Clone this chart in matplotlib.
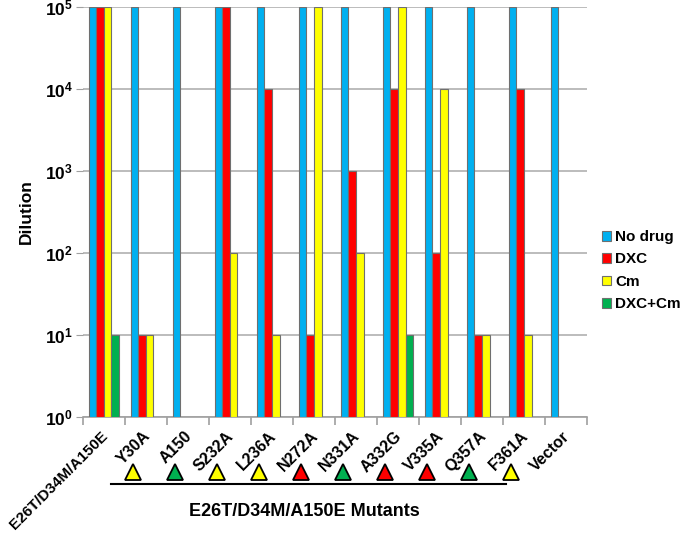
import numpy as np
import matplotlib
matplotlib.use("Agg")
import matplotlib.pyplot as plt
import matplotlib.transforms as mtransforms
from matplotlib.patches import Patch

plt.rcParams['font.family'] = ['Liberation Sans', 'DejaVu Sans']
plt.rcParams['mathtext.fontset'] = 'custom'
plt.rcParams['mathtext.rm'] = 'Liberation Sans:bold'
plt.rcParams['mathtext.bf'] = 'Liberation Sans:bold'
plt.rcParams['mathtext.it'] = 'Liberation Sans:bold'

categories = ["E26T/D34M/A150E", "Y30A", "A150", "S232A", "L236A", "N272A",
              "N331A", "A332G", "V335A", "Q357A", "F361A", "Vector"]
nan = np.nan
no_drug = [1e5, 1e5, 1e5, 1e5, 1e5, 1e5, 1e5, 1e5, 1e5, 1e5, 1e5, 1e5]
dxc     = [1e5, 10, nan, 1e5, 1e4, 10, 1e3, 1e4, 100, 10, 1e4, nan]
cm      = [1e5, 10, nan, 100, 10, 1e5, 100, 1e5, 1e4, 10, 10, nan]
dxc_cm  = [10, nan, nan, nan, nan, nan, nan, 10, nan, nan, nan, nan]
series_names = ["No drug", "DXC", "Cm", "DXC+Cm"]
series_colors = ["#00B0F0", "#FF0000", "#FFFF00", "#00B050"]
triangle_colors = ["#FFFF00", "#00B050", "#FFFF00", "#FFFF00", "#FF0000",
                   "#00B050", "#FF0000", "#FF0000", "#00B050", "#FFFF00"]
ytick_vals = [1, 10, 100, 1e3, 1e4, 1e5]
ytick_labels = [r"$10^{0}$", r"$10^{1}$", r"$10^{2}$", r"$10^{3}$", r"$10^{4}$", r"$10^{5}$"]
group_title = "E26T/D34M/A150E Mutants"

fig = plt.figure(figsize=(6.85, 5.36), dpi=100)
ax = fig.add_axes([0.121, 0.222, 0.736, 0.765])

x = np.arange(len(categories))
w = 0.18
series = [no_drug, dxc, cm, dxc_cm]
for k, (vals, col) in enumerate(zip(series, series_colors)):
    v = np.array(vals, dtype=float)
    ax.bar(x + (k - 1.5) * w, v - 1, bottom=1, width=w, color=col,
           edgecolor="#6f6f6f", linewidth=0.8, zorder=3)

ax.set_yscale("log")
ax.set_ylim(1, 1e5)
ax.set_xlim(-0.5, len(categories) - 0.5)
ax.set_yticks(ytick_vals)
ax.set_yticklabels(ytick_labels, fontsize=12.5)
ax.yaxis.set_minor_locator(matplotlib.ticker.NullLocator())
ax.grid(axis="y", color="#b0b0b0", linewidth=1.2, zorder=0)
for s in ["left", "right", "top"]:
    ax.spines[s].set_visible(False)
ax.spines["bottom"].set_color("#a0a0a0")
ax.spines["bottom"].set_linewidth(1.2)
ax.tick_params(axis="y", length=5, color="#a0a0a0", pad=2)

# x ticks at group boundaries
ax.set_xticks(np.arange(len(categories) + 1) - 0.5)
ax.set_xticklabels([])
ax.tick_params(axis="x", length=6, color="#a0a0a0", width=1.2)
trans = mtransforms.blended_transform_factory(ax.transData, ax.transAxes)
for i, c in enumerate(categories):
    ax.text(i - 0.09, -0.028, c, transform=trans,
            rotation=45, ha="right", va="top", rotation_mode="anchor",
            fontsize=11 if i == 0 else 11.5, fontweight="bold")

ax.set_ylabel("Dilution", fontsize=12.5, fontweight="bold", labelpad=8)

for i, col in enumerate(triangle_colors):
    ax.plot(i + 1 - 0.3, -0.133, marker="^", ms=11, mfc=col, mec="black",
            mew=1.3, transform=trans, clip_on=False, zorder=5)
ax.plot([0.17, 9.57], [-0.163, -0.163], color="black", lw=1.5,
        transform=trans, clip_on=False)
ax.text(4.78, -0.23, group_title, transform=trans, ha="center", va="center",
        fontsize=13, fontweight="bold")

handles = [Patch(facecolor=c, edgecolor="#6f6f6f", linewidth=0.8) for c in series_colors]
fig.legend(handles, series_names, loc="center left", bbox_to_anchor=(0.874, 0.495),
           frameon=False, prop={"weight": "bold", "size": 11},
           handlelength=0.6, handleheight=0.6, handletextpad=0.3, labelspacing=0.55,
           borderaxespad=0, borderpad=0.2)

fig.savefig("out.png", dpi=100)
